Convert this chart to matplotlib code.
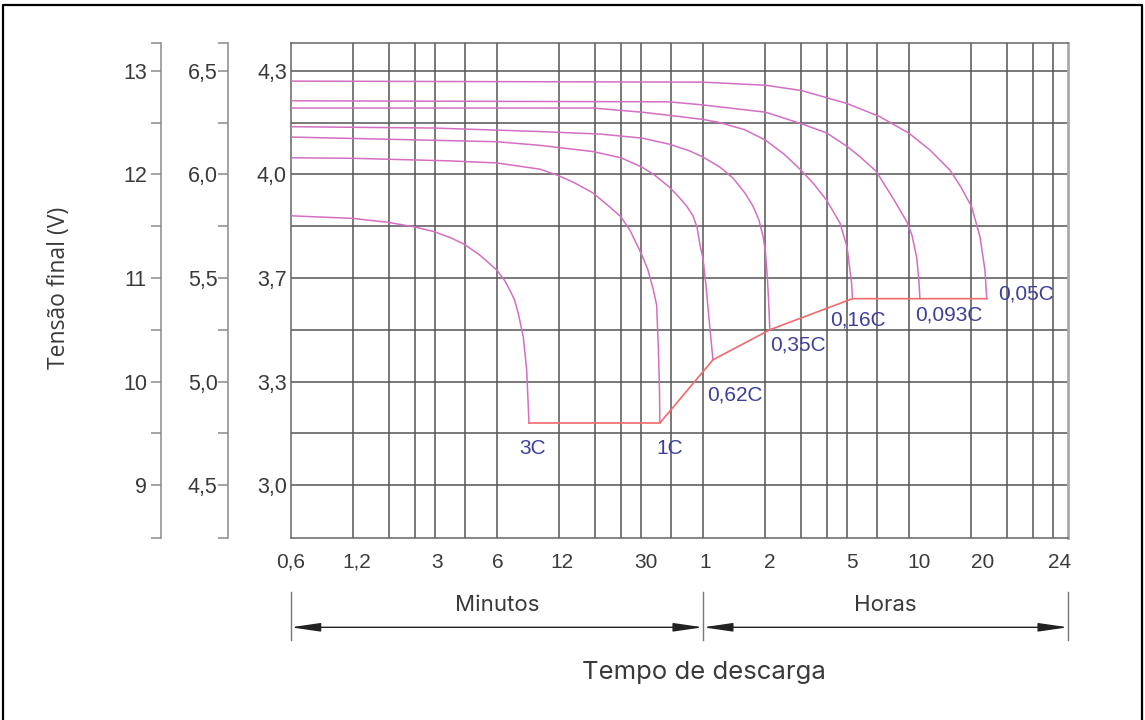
import matplotlib
matplotlib.use("Agg")
import matplotlib.pyplot as plt
import matplotlib.transforms as mtransforms
from matplotlib.lines import Line2D

# ---------------- data (time in hours, voltage on the 12 V scale) ----------------
rates = ["3C", "1C", "0,62C", "0,35C", "0,16C", "0,093C", "0,05C"]

t_3c = [0.01, 0.02, 0.0296, 0.0396, 0.0496, 0.0593, 0.0693, 0.0828, 0.1, 0.1095,
        0.1158, 0.1218, 0.127, 0.1344, 0.1396]
v_3c = [11.60, 11.575, 11.537, 11.494, 11.447, 11.39, 11.327, 11.22, 11.076, 10.97,
        10.88, 10.79, 10.66, 10.43, 10.11]

t_1c = [0.01, 0.02, 0.0593, 0.1, 0.162, 0.198, 0.2393, 0.293, 0.346, 0.40, 0.4426,
        0.506, 0.5409, 0.572, 0.596, 0.608, 0.6152]
v_1c = [12.16, 12.155, 12.13, 12.11, 12.05, 11.99, 11.916, 11.82, 11.70, 11.59, 11.46,
        11.22, 11.076, 10.90, 10.74, 10.30, 9.92]

t_062 = [0.01, 0.1, 0.162, 0.293, 0.40, 0.506, 0.585, 0.684, 0.765, 0.836, 0.894,
         0.936, 0.967, 1.0, 1.034, 1.069]
v_062 = [12.36, 12.315, 12.28, 12.22, 12.16, 12.07, 11.99, 11.88, 11.78, 11.69, 11.60,
         11.49, 11.318, 11.19, 10.93, 10.613]

t_035 = [0.01, 0.0496, 0.162, 0.3166, 0.506, 0.684, 0.865, 1.0, 1.209, 1.398, 1.598,
         1.748, 1.869, 1.955, 2.01, 2.056, 2.086]
v_035 = [12.46, 12.447, 12.413, 12.389, 12.35, 12.292, 12.225, 12.167, 12.07, 11.964,
         11.82, 11.694, 11.559, 11.404, 11.25, 10.98, 10.74]

t_016 = [0.01, 0.293, 0.506, 0.684, 1.0, 1.209, 1.598, 2.01, 2.471, 2.99, 3.455, 3.98,
         4.62, 5.0, 5.26]
v_016 = [12.64, 12.64, 12.60, 12.57, 12.53, 12.50, 12.43, 12.33, 12.196, 12.04, 11.906,
         11.75, 11.53, 11.30, 10.95]

t_0093 = [0.01, 0.684, 1.0, 2.01, 2.99, 3.98, 5.0, 5.776, 6.905, 8.35, 9.76, 10.32,
          10.88, 11.13]
v_0093 = [12.71, 12.70, 12.67, 12.60, 12.49, 12.40, 12.27, 12.17, 12.032, 11.771, 11.54,
          11.414, 11.20, 11.0]

t_005 = [0.01, 1.0, 2.01, 2.99, 4.98, 7.22, 10.0, 12.62, 15.8, 17.85, 20.1, 22.07, 23.33]
v_005 = [12.90, 12.89, 12.86, 12.81, 12.685, 12.556, 12.396, 12.235, 12.04, 11.877,
         11.687, 11.398, 11.076]

# end-of-discharge points (final voltage)
end_t = [0.1432, 0.618, 1.118, 2.11, 5.31, 11.29, 23.8]
end_v = [9.60, 9.60, 10.21, 10.50, 10.80, 10.80, 10.80]

curves_t = [t_3c, t_1c, t_062, t_035, t_016, t_0093, t_005]
curves_v = [v_3c, v_1c, v_062, v_035, v_016, v_0093, v_005]

# label offsets from end points (pixels: right, down)
label_off = [(4, 25), (10, 25), (22, 35), (28, 15), (6, 21), (29, 16), (39, -5)]

# axes ticks
x_grid = [0.02, 0.03, 0.04, 0.05, 0.07, 0.1, 0.2, 0.3, 0.4, 0.5, 0.7,
          1, 2, 3, 4, 5, 7, 10, 20, 30, 40, 50]
x_tick_pos = [0.01, 0.02, 0.05, 0.1, 0.2, 0.5, 1, 2, 5, 10, 20, 59]
x_tick_lab = ["0,6", "1,2", "3", "6", "12", "30", "1", "2", "5", "10", "20", "24"]
x_tick_shift = [0, 4, 2, 1, 3, 5, 2, 5, 5, 10, 11, -8]

y_major = [9, 10, 11, 12, 13]
y_grid = [9, 9.5, 10, 10.5, 11, 11.5, 12, 12.5, 13]
lab_12v = ["9", "10", "11", "12", "13"]
lab_6v = ["4,5", "5,0", "5,5", "6,0", "6,5"]
lab_cell = ["3,0", "3,3", "3,7", "4,0", "4,3"]

XMIN, XMAX = 0.01, 59
YMIN, YMAX = 8.49, 13.265

# ---------------- figure ----------------
W, H, DPI = 1145, 720, 100
fig = plt.figure(figsize=(W / DPI, H / DPI), dpi=DPI)
fig.patch.set_facecolor("white")

TXT = "#3a3a3a"
CURVE = "#d46ec4"
ENDC = "#f26a6a"
LABC = "#3d3f98"
GRID = "#555555"
TICKFONT = "Liberation Sans"
TITLEFONT = "Open Sans"
XTITLEFONT = "Inter"

L, R, T, B = 290.7, 1068, 43.3, 538
ax = fig.add_axes([L / W, 1 - B / H, (R - L) / W, (B - T) / H])
ax.set_xscale("log")
ax.set_xlim(XMIN, XMAX)
ax.set_ylim(YMIN, YMAX)
ax.xaxis.remove_overlapping_locs = False
ax.yaxis.remove_overlapping_locs = False

ax.set_xticks(x_tick_pos)
ax.set_xticklabels(x_tick_lab, fontfamily=TICKFONT, fontsize=15, color=TXT)
ax.set_xticks(x_grid, minor=True)
ax.set_xticklabels([], minor=True)
ax.set_yticks(y_major)
ax.set_yticklabels(lab_cell, fontfamily=TICKFONT, fontsize=15.5, color=TXT)
ax.set_yticks(y_grid, minor=True)
ax.tick_params(axis="both", which="both", length=0)
ax.tick_params(axis="x", which="major", pad=10.5)
ax.tick_params(axis="y", which="major", pad=2.7)
ax.grid(False, which="major")
ax.grid(True, which="minor", color=GRID, lw=1.1)
ax.set_axisbelow(True)
for s in ax.spines.values():
    s.set_color("#666666")
    s.set_linewidth(1.1)
ax.spines["right"].set_color("#aaaaaa")
ax.spines["right"].set_linewidth(2)

for lab, dx in zip(ax.get_xticklabels(), x_tick_shift):
    lab.set_transform(lab.get_transform() +
                      mtransforms.ScaledTranslation(dx / DPI, 0, fig.dpi_scale_trans))

# curves
for t, v, et, ev in zip(curves_t, curves_v, end_t, end_v):
    ax.plot(t + [et], v + [ev], color=CURVE, lw=1.1, zorder=3,
            solid_joinstyle="round")
ax.plot(end_t, end_v, color=ENDC, lw=1.2, zorder=4)

for name, et, ev, (dx, dy) in zip(rates, end_t, end_v, label_off):
    ax.annotate(name, xy=(et, ev), xytext=(dx * 0.72, -dy * 0.72),
                textcoords="offset points", ha="center", va="center",
                fontfamily=TICKFONT, fontsize=15, color=LABC, zorder=5)

# ---------------- extra voltage axes ----------------
def side_axis(xpx, scale, labels, pad):
    a = fig.add_axes([xpx / W, 1 - B / H, 0.0005, (B - T) / H])
    a.set_ylim(YMIN * scale, YMAX * scale)
    a.patch.set_visible(False)
    for k in ("top", "right", "bottom"):
        a.spines[k].set_visible(False)
    a.spines["left"].set_color("#8a8a8a")
    a.spines["left"].set_linewidth(1.1)
    a.set_xticks([])
    a.yaxis.remove_overlapping_locs = False
    a.set_yticks([y * scale for y in y_major])
    a.set_yticklabels(labels, fontfamily=TICKFONT, fontsize=15.5, color=TXT)
    minors = [YMIN * scale + 0.001 * scale, 9.5 * scale, 10.5 * scale,
              11.5 * scale, 12.5 * scale, YMAX * scale - 0.001 * scale]
    a.set_yticks(minors, minor=True)
    a.tick_params(axis="y", which="both", length=7.2, width=1.1,
                  color="#8a8a8a", direction="out")
    a.tick_params(axis="y", which="major", pad=pad)
    return a

side_axis(161, 1.0, lab_12v, 2.9)
side_axis(228, 0.5, lab_6v, 0.3)

fig.text(59 / W, 1 - 288 / H, "Tensão final (V)", rotation=90, ha="center",
         va="center", fontfamily=TITLEFONT, fontsize=16.5, color=TXT)

# ---------------- bottom dimension arrows ----------------
btr = mtransforms.blended_transform_factory(ax.transData, fig.transFigure)
y_arrow = 1 - 627.3 / H
y_bar0, y_bar1 = 1 - 591.7 / H, 1 - 640 / H
for xb in (XMIN, 1, XMAX):
    fig.add_artist(Line2D([xb, xb], [y_bar0, y_bar1], transform=btr,
                          color="#777777", lw=1.0))
for x0, x1, name in ((XMIN, 1, "Minutos"), (1, XMAX, "Horas")):
    ax.annotate("", xy=(x0, y_arrow), xytext=(x1, y_arrow), xycoords=btr,
                textcoords=btr, annotation_clip=False,
                arrowprops=dict(arrowstyle="<|-|>,head_length=0.9,head_width=0.13",
                                mutation_scale=20, color="#222222", lw=1.0,
                                shrinkA=0, shrinkB=0))
    xm = (x0 * x1) ** 0.5
    ax.text(xm, 1 - 605 / H, name, transform=btr, ha="center", va="center",
            fontfamily=XTITLEFONT, fontsize=16, color=TXT)

fig.text(704 / W, 1 - 673 / H, "Tempo de descarga", ha="center", va="center",
         fontfamily=XTITLEFONT, fontsize=18.5, color=TXT)

# ---------------- outer frame ----------------
fx0, fx1, fy1 = 3 / W, 1142 / W, 1 - 5 / H
fig.add_artist(Line2D([fx0, fx0, fx1, fx1], [0, fy1, fy1, 0],
                      transform=fig.transFigure, color="black", lw=1.6))

fig.savefig("out.png", dpi=DPI, facecolor="white")
